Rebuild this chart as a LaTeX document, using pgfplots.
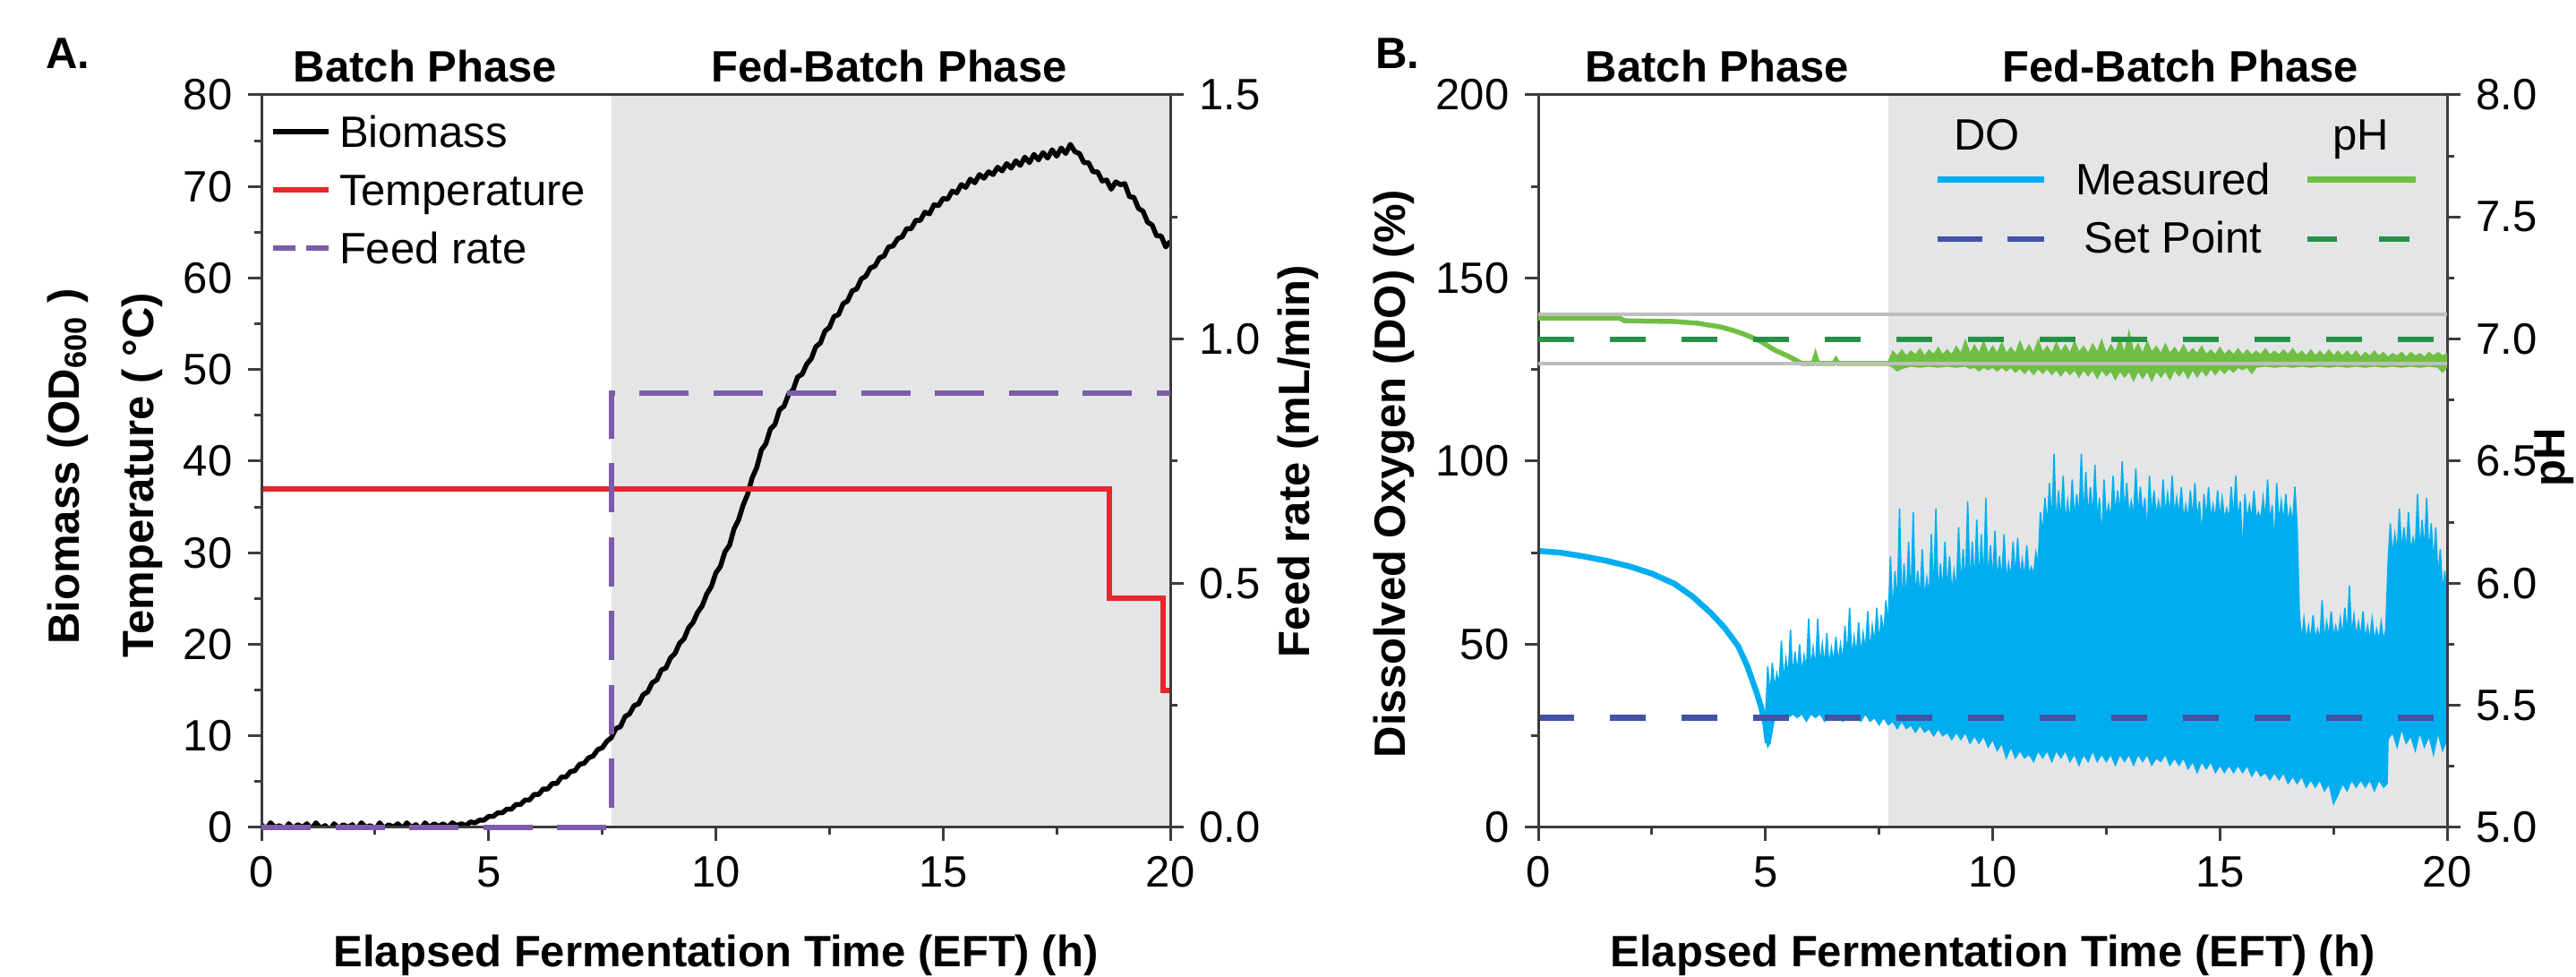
\documentclass[border=0pt]{standalone}
\usepackage{fontspec}
\setmainfont{Liberation Sans}
\usepackage{pgfplots}
\pgfplotsset{compat=1.18}

\definecolor{shade}{RGB}{228,229,231}
\definecolor{axiscol}{RGB}{60,60,60}
\definecolor{tempred}{RGB}{232,37,44}
\definecolor{feedpurple}{RGB}{124,92,170}
\definecolor{doblue}{RGB}{0,174,239}
\definecolor{dosp}{RGB}{66,82,164}
\definecolor{phgreen}{RGB}{112,191,68}
\definecolor{phsp}{RGB}{38,145,70}
\definecolor{limgray}{RGB}{190,190,190}

\newcommand\tfont{\fontsize{9.8}{11}\selectfont}
\newcommand\lfont{\fontsize{9.8}{11}\selectfont\bfseries}

\pgfplotsset{
  panel/.style={
    scale only axis, width=203pt, height=163.6pt, anchor=south west,
    xmin=0, xmax=20, xtick={0,5,10,15,20}, minor x tick num=1,
    tick align=outside, major tick length=3pt, minor tick length=1.6pt,
    axis line style={axiscol, line width=0.6pt},
    tick style={axiscol, line width=0.6pt},
    tick label style={font=\tfont},
    /pgf/number format/assume math mode=true,
  },
  onedec/.style={yticklabel style={/pgf/number format/.cd, fixed, fixed zerofill, precision=1}},
}

\begin{document}
\begin{tikzpicture}
\useasboundingbox (0,0) rectangle (575.4pt,218.2pt);

% ---------- panel A: biomass / temperature ----------
\begin{axis}[panel, at={(58.4pt,33.4pt)}, ymin=0, ymax=80, ytick={0,10,...,80},
    minor y tick num=1, xtick pos=left, ytick pos=left, axis on top]
  \addplot[fill=shade, draw=none] coordinates {(7.7,0)(20,0)(20,80)(7.7,80)} -- cycle;
  % biomass
  \addplot[black, line width=1.1pt, line join=round] coordinates {
    (0.0,0.3)(0.1,-0.2)(0.2,0.5)(0.3,0.0)(0.4,0.2)(0.5,-0.3)(0.6,0.4)(0.7,-0.1)(0.8,0.3)(0.9,0.0)
    (1.0,0.4)(1.1,-0.2)(1.2,0.5)(1.3,-0.1)(1.4,0.2)(1.5,-0.3)(1.6,0.4)(1.7,-0.1)(1.8,0.3)(1.9,0.0)
    (2.0,0.3)(2.1,-0.2)(2.2,0.5)(2.3,0.0)(2.4,0.2)(2.5,-0.3)(2.6,0.5)(2.7,-0.1)(2.8,0.3)(2.9,0.0)
    (3.0,0.4)(3.1,-0.1)(3.2,0.5)(3.3,0.0)(3.4,0.3)(3.5,-0.2)(3.6,0.5)(3.7,0.0)(3.8,0.4)(3.9,0.1)
    (4.0,0.4)(4.1,0.0)(4.2,0.5)(4.3,0.2)(4.4,0.4)(4.5,0.2)(4.6,0.6)(4.7,0.5)(4.8,0.8)(4.9,0.8)
    (5.0,1.2)(5.1,1.2)(5.2,1.6)(5.3,1.6)(5.4,2.0)(5.5,2.0)(5.6,2.5)(5.7,2.5)(5.8,3.0)(5.9,3.0)
    (6.0,3.6)(6.1,3.6)(6.2,4.2)(6.3,4.2)(6.4,4.8)(6.5,4.8)(6.6,5.5)(6.7,5.5)(6.8,6.1)(6.9,6.2)
    (7.0,6.9)(7.1,7.0)(7.2,7.6)(7.3,7.8)(7.4,8.5)(7.5,8.7)(7.6,9.4)(7.7,9.8)(7.8,10.8)(7.9,11.0)
    (8.0,12.1)(8.1,12.4)(8.2,13.3)(8.3,13.5)(8.4,14.5)(8.5,14.8)(8.6,15.8)(8.7,16.1)(8.8,17.2)(8.9,17.4)
    (9.0,18.5)(9.1,19.0)(9.2,20.1)(9.3,20.6)(9.4,21.8)(9.5,22.4)(9.6,23.5)(9.7,24.2)(9.8,25.5)(9.9,26.3)
    (10.0,27.8)(10.1,28.5)(10.2,30.1)(10.3,30.8)(10.4,32.6)(10.5,33.6)(10.6,35.2)(10.7,36.4)(10.8,38.2)(10.9,39.3)
    (11.0,41.2)(11.1,41.9)(11.2,43.5)(11.3,44.0)(11.4,45.6)(11.5,46.0)(11.6,47.3)(11.7,47.8)(11.8,49.2)(11.9,49.5)
    (12.0,50.6)(12.1,51.2)(12.2,52.5)(12.3,52.9)(12.4,54.2)(12.5,54.6)(12.6,55.8)(12.7,56.0)(12.8,57.2)(12.9,57.5)
    (13.0,58.6)(13.1,58.8)(13.2,59.9)(13.3,60.2)(13.4,61.1)(13.5,61.3)(13.6,62.2)(13.7,62.4)(13.8,63.4)(13.9,63.5)
    (14.0,64.3)(14.1,64.5)(14.2,65.4)(14.3,65.4)(14.4,66.3)(14.5,66.3)(14.6,67.2)(14.7,67.0)(14.8,68.0)(14.9,67.9)
    (15.0,68.7)(15.1,68.6)(15.2,69.5)(15.3,69.3)(15.4,70.2)(15.5,69.9)(15.6,70.8)(15.7,70.4)(15.8,71.3)(15.9,70.9)
    (16.0,71.6)(16.1,71.3)(16.2,72.1)(16.3,71.7)(16.4,72.5)(16.5,72.0)(16.6,72.8)(16.7,72.3)(16.8,73.2)(16.9,72.6)
    (17.0,73.5)(17.1,72.9)(17.2,73.7)(17.3,73.1)(17.4,74.0)(17.5,73.3)(17.6,74.2)(17.7,73.6)(17.8,74.6)(17.9,73.8)
    (18.0,73.6)(18.1,72.6)(18.2,72.6)(18.3,71.6)(18.4,71.6)(18.5,70.6)(18.6,70.7)(18.7,69.7)(18.8,70.5)(18.9,70.2)
    (19.0,70.3)(19.1,68.9)(19.2,68.8)(19.3,67.6)(19.4,67.3)(19.5,66.1)(19.6,65.8)(19.7,64.6)(19.8,64.6)(19.9,63.4)
    (20.0,64.0)
  };
  % temperature
  \addplot[tempred, line width=1.2pt] coordinates {
    (0,37)(18.65,37)(18.65,25)(19.85,25)(19.85,15)(20,15)
  };
\end{axis}

% feed rate on the right axis
\begin{axis}[panel, onedec, at={(58.4pt,33.4pt)}, ymin=0, ymax=1.5, ytick={0,0.5,1,1.5},
    minor y tick num=1, axis y line*=right, axis x line=none, clip=false]
  \addplot[feedpurple, line width=1.2pt, dash pattern=on 11pt off 5.5pt] coordinates {
    (0,0)(7.7,0)(7.7,0.89)(20,0.89)
  };
\end{axis}

% ---------- panel B: dissolved oxygen / pH ----------
\begin{axis}[panel, at={(343.6pt,33.4pt)}, ymin=0, ymax=200, ytick={0,50,...,200},
    minor y tick num=1, xtick pos=left, ytick pos=left, axis on top]
  \addplot[fill=shade, draw=none] coordinates {(7.7,0)(20,0)(20,200)(7.7,200)} -- cycle;
  % DO measured, noisy part (upper envelope then lower envelope)
  \addplot[fill=doblue, draw=doblue, line width=0.3pt] coordinates {
    (5.00,30)(5.05,44)(5.10,36)(5.15,45)(5.20,38)(5.25,42)(5.30,39)(5.35,51)(5.40,40)(5.45,46)
    (5.50,41)(5.55,54)(5.60,41)(5.65,48)(5.70,42)(5.75,50)(5.80,42)(5.85,47)(5.90,43)(5.95,57)
    (6.00,43)(6.05,49)(6.10,43)(6.15,57)(6.20,44)(6.25,50)(6.30,44)(6.35,53)(6.40,44)(6.45,49)
    (6.50,45)(6.55,52)(6.60,45)(6.65,50)(6.70,45)(6.75,55)(6.80,46)(6.85,60)(6.90,46)(6.95,52)
    (7.00,47)(7.05,56)(7.10,47)(7.15,53)(7.20,48)(7.25,59)(7.30,48)(7.35,55)(7.40,50)(7.45,60)
    (7.50,50)(7.55,58)(7.60,52)(7.65,62)(7.70,55)(7.75,74)(7.80,58)(7.85,70)(7.90,60)(7.95,87)
    (8.00,60)(8.05,72)(8.10,61)(8.15,78)(8.20,61)(8.25,86)(8.30,62)(8.35,70)(8.40,62)(8.45,76)
    (8.50,62)(8.55,68)(8.60,63)(8.65,80)(8.70,63)(8.75,87)(8.80,63)(8.85,72)(8.90,64)(8.95,78)
    (9.00,64)(9.05,74)(9.10,64)(9.15,70)(9.20,64)(9.25,82)(9.30,65)(9.35,76)(9.40,65)(9.45,89)
    (9.50,65)(9.55,78)(9.60,66)(9.65,84)(9.70,66)(9.75,80)(9.80,66)(9.85,90)(9.90,66)(9.95,77)
    (10.00,67)(10.05,81)(10.10,67)(10.15,74)(10.20,67)(10.25,80)(10.30,67)(10.35,72)(10.40,68)(10.45,78)
    (10.50,68)(10.55,79)(10.60,68)(10.65,73)(10.70,68)(10.75,77)(10.80,69)(10.85,71)(10.90,69)(10.95,75)
    (11.00,72)(11.05,86)(11.10,80)(11.15,90)(11.20,82)(11.25,94)(11.30,82)(11.35,102)(11.40,82)(11.45,92)
    (11.50,83)(11.55,96)(11.60,83)(11.65,89)(11.70,83)(11.75,95)(11.80,84)(11.85,91)(11.90,84)(11.95,102)
    (12.00,84)(12.05,97)(12.10,84)(12.15,93)(12.20,84)(12.25,99)(12.30,84)(12.35,90)(12.40,78)(12.45,95)
    (12.50,84)(12.55,88)(12.60,84)(12.65,96)(12.70,85)(12.75,92)(12.80,85)(12.85,100)(12.90,85)(12.95,94)
    (13.00,85)(13.05,89)(13.10,85)(13.15,98)(13.20,85)(13.25,93)(13.30,85)(13.35,90)(13.40,80)(13.45,96)
    (13.50,85)(13.55,92)(13.60,85)(13.65,89)(13.70,85)(13.75,95)(13.80,85)(13.85,91)(13.90,85)(13.95,96)
    (14.00,85)(14.05,90)(14.10,85)(14.15,93)(14.20,84)(14.25,88)(14.30,84)(14.35,92)(14.40,84)(14.45,94)
    (14.50,84)(14.55,89)(14.60,79)(14.65,91)(14.70,84)(14.75,93)(14.80,84)(14.85,88)(14.90,84)(14.95,92)
    (15.00,84)(15.05,90)(15.10,84)(15.15,87)(15.20,84)(15.25,93)(15.30,84)(15.35,96)(15.40,84)(15.45,89)
    (15.50,74)(15.55,91)(15.60,84)(15.65,88)(15.70,84)(15.75,92)(15.80,84)(15.85,86)(15.90,84)(15.95,90)
    (16.00,84)(16.05,95)(16.10,83)(16.15,88)(16.20,77)(16.25,94)(16.30,83)(16.35,89)(16.40,83)(16.45,91)
    (16.50,83)(16.55,87)(16.60,83)(16.65,93)(16.70,82)(16.75,58)(16.80,51)(16.85,57)(16.90,51)(16.95,55)
    (17.00,51)(17.05,58)(17.10,51)(17.15,54)(17.20,51)(17.25,62)(17.30,51)(17.35,56)(17.40,52)(17.45,59)
    (17.50,52)(17.55,55)(17.60,52)(17.65,57)(17.70,52)(17.75,60)(17.80,52)(17.85,66)(17.90,52)(17.95,58)
    (18.00,52)(18.05,56)(18.10,52)(18.15,59)(18.20,51)(18.25,55)(18.30,51)(18.35,57)(18.40,51)(18.45,54)
    (18.50,51)(18.55,56)(18.60,51)(18.65,54)(18.70,72)(18.75,83)(18.80,74)(18.85,80)(18.90,75)(18.95,87)
    (19.00,75)(19.05,82)(19.10,75)(19.15,86)(19.20,75)(19.25,79)(19.30,76)(19.35,91)(19.40,75)(19.45,84)
    (19.50,75)(19.55,90)(19.60,74)(19.65,83)(19.70,72)(19.75,82)(19.80,68)(19.85,76)(19.90,64)(19.95,70)
    (20.00,61)
    (20.0,24)(19.9,21)(19.8,26)(19.7,20)(19.6,25)(19.5,22)(19.4,26)(19.3,21)(19.2,25)(19.1,23)
    (19.0,27)(18.9,22)(18.8,26)(18.7,24)(18.68,12)(18.6,11)(18.5,13)(18.4,10)(18.3,13)(18.2,11)
    (18.1,13)(18.0,11)(17.9,13)(17.8,10)(17.7,12)(17.6,9)(17.5,6.5)(17.4,12)(17.3,10)(17.2,13)
    (17.1,11)(17.0,13)(16.9,11)(16.8,14)(16.7,12)(16.6,14)(16.5,12)(16.4,15)(16.3,13)(16.2,15)
    (16.1,13)(16.0,15)(15.9,14)(15.8,16)(15.7,14)(15.6,17)(15.5,15)(15.4,17)(15.3,15)(15.2,17)
    (15.1,15)(15.0,17)(14.9,15)(14.8,18)(14.7,16)(14.6,18)(14.5,15)(14.4,18)(14.3,16)(14.2,19)
    (14.1,17)(14.0,19)(13.9,17)(13.8,20)(13.7,18)(13.6,19)(13.5,17)(13.4,20)(13.3,18)(13.2,20)
    (13.1,17)(13.0,20)(12.9,18)(12.8,20)(12.7,17)(12.6,20)(12.5,18)(12.4,20)(12.3,18)(12.2,21)
    (12.1,18)(12.0,20)(11.9,17)(11.8,20)(11.7,18)(11.6,21)(11.5,19)(11.4,21)(11.3,18)(11.2,21)
    (11.1,19)(11.0,21)(10.9,18)(10.8,20)(10.7,19)(10.6,21)(10.5,19)(10.4,22)(10.3,19)(10.2,23)
    (10.1,21)(10.0,24)(9.9,22)(9.8,25)(9.7,23)(9.6,25)(9.5,23)(9.4,26)(9.3,24)(9.2,26)
    (9.1,24)(9.0,26)(8.9,25)(8.8,27)(8.7,25)(8.6,27)(8.5,26)(8.4,28)(8.3,26)(8.2,28)
    (8.1,27)(8.0,29)(7.9,27)(7.8,29)(7.7,28)(7.6,30)(7.5,28)(7.4,30)(7.3,29)(7.2,31)
    (7.1,29)(7.0,31)(6.9,30)(6.8,31)(6.7,29)(6.6,31)(6.5,30)(6.4,31)(6.3,29)(6.2,31)
    (6.1,30)(6.0,31)(5.9,29)(5.8,31)(5.7,30)(5.6,31)(5.5,30)(5.4,31)(5.3,30)(5.2,30)
    (5.1,23)(5.05,22)(5.0,26)
  } -- cycle;
  % DO measured, batch part
  \addplot[doblue, line width=1.3pt] coordinates {
    (0,75.5)(0.5,75)(1,74)(1.5,72.8)(2,71.3)(2.5,69.3)(3,66.5)(3.4,63)(3.8,58.5)
    (4.1,54.5)(4.4,49.5)(4.6,44)(4.7,40.5)(4.8,37)(4.9,33)(5.0,28)(5.05,23)
  };
  % DO set point
  \addplot[dosp, line width=1.3pt, dash pattern=on 8pt off 8pt] coordinates {(0,30)(20,30)};
\end{axis}

\begin{axis}[panel, onedec, at={(343.6pt,33.4pt)}, ymin=5, ymax=8, ytick={5,5.5,...,8},
    minor y tick num=1, axis y line*=right, axis x line=none]
  % pH measured, fed-batch band
  \addplot[fill=phgreen, draw=phgreen, line width=0.3pt] coordinates {
    (7.7,6.905)(7.8,6.95)(7.9,6.93)(8.0,6.955)(8.1,6.93)(8.2,6.95)(8.3,6.935)(8.4,6.96)(8.5,6.93)(8.6,6.955)
    (8.7,6.935)(8.8,6.965)(8.9,6.935)(9.0,6.955)(9.1,6.935)(9.2,6.97)(9.3,6.94)(9.4,6.995)(9.5,6.94)(9.6,6.975)
    (9.7,6.94)(9.8,6.99)(9.9,6.94)(10.0,6.97)(10.1,6.94)(10.2,6.985)(10.3,6.94)(10.4,6.965)(10.5,6.94)(10.6,6.99)
    (10.7,6.945)(10.8,6.975)(10.9,6.94)(11.0,6.995)(11.1,6.945)(11.2,6.97)(11.3,6.94)(11.4,6.985)(11.5,6.945)(11.6,6.975)
    (11.7,6.94)(11.8,6.99)(11.9,6.945)(12.0,6.97)(12.1,6.94)(12.2,6.98)(12.3,6.945)(12.4,6.995)(12.5,6.94)(12.6,6.975)
    (12.7,6.945)(12.8,7.0)(12.9,6.94)(13.0,7.03)(13.1,6.945)(13.2,6.98)(13.3,6.94)(13.4,6.99)(13.5,6.945)(13.6,6.97)
    (13.7,6.94)(13.8,6.98)(13.9,6.94)(14.0,6.965)(14.1,6.94)(14.2,6.975)(14.3,6.94)(14.4,6.96)(14.5,6.94)(14.6,6.97)
    (14.7,6.935)(14.8,6.955)(14.9,6.935)(15.0,6.965)(15.1,6.935)(15.2,6.955)(15.3,6.935)(15.4,6.96)(15.5,6.935)(15.6,6.955)
    (15.7,6.935)(15.8,6.95)(15.9,6.935)(16.0,6.96)(16.1,6.935)(16.2,6.95)(16.3,6.935)(16.4,6.955)(16.5,6.935)(16.6,6.96)
    (16.7,6.935)(16.8,6.95)(16.9,6.93)(17.0,6.955)(17.1,6.93)(17.2,6.95)(17.3,6.93)(17.4,6.955)(17.5,6.93)(17.6,6.95)
    (17.7,6.93)(17.8,6.95)(17.9,6.93)(18.0,6.95)(18.1,6.925)(18.2,6.945)(18.3,6.93)(18.4,6.95)(18.5,6.93)(18.6,6.945)
    (18.7,6.925)(18.8,6.94)(18.9,6.93)(19.0,6.945)(19.1,6.925)(19.2,6.945)(19.3,6.93)(19.4,6.94)(19.5,6.925)(19.6,6.945)
    (19.7,6.93)(19.8,6.945)(19.9,6.93)(20.0,6.94)
    (20.0,6.885)(19.9,6.865)(19.8,6.885)(19.6,6.89)(19.4,6.885)(19.2,6.89)(19.0,6.885)(18.8,6.89)(18.6,6.885)(18.4,6.89)
    (18.2,6.885)(18.0,6.89)(17.8,6.885)(17.6,6.89)(17.4,6.885)(17.2,6.89)(17.0,6.885)(16.8,6.89)(16.6,6.885)(16.4,6.89)
    (16.2,6.885)(16.0,6.89)(15.8,6.885)(15.7,6.86)(15.6,6.885)(15.5,6.875)(15.4,6.885)(15.3,6.865)(15.2,6.88)(15.1,6.86)
    (15.0,6.88)(14.9,6.855)(14.8,6.88)(14.7,6.85)(14.6,6.875)(14.5,6.845)(14.4,6.875)(14.3,6.84)(14.2,6.875)(14.1,6.85)
    (14.0,6.875)(13.9,6.835)(13.8,6.87)(13.7,6.845)(13.6,6.87)(13.5,6.83)(13.4,6.87)(13.3,6.84)(13.2,6.87)(13.1,6.83)
    (13.0,6.87)(12.9,6.845)(12.8,6.87)(12.7,6.835)(12.6,6.87)(12.5,6.85)(12.4,6.875)(12.3,6.84)(12.2,6.875)(12.1,6.85)
    (12.0,6.875)(11.9,6.845)(11.8,6.875)(11.7,6.855)(11.6,6.875)(11.5,6.85)(11.4,6.875)(11.3,6.855)(11.2,6.88)(11.1,6.86)
    (11.0,6.88)(10.9,6.855)(10.8,6.88)(10.7,6.86)(10.6,6.88)(10.5,6.865)(10.4,6.885)(10.3,6.87)(10.2,6.885)(10.1,6.87)
    (10.0,6.885)(9.9,6.875)(9.8,6.885)(9.7,6.87)(9.6,6.885)(9.5,6.88)(9.4,6.89)(9.2,6.885)(9.0,6.89)(8.8,6.885)
    (8.6,6.89)(8.4,6.885)(8.2,6.89)(8.0,6.88)(7.9,6.87)(7.8,6.885)(7.7,6.895)
  } -- cycle;
  % pH measured, batch part
  \addplot[phgreen, line width=1.1pt] coordinates {
    (0,7.085)(1.8,7.085)(1.9,7.075)(3.0,7.072)(3.5,7.065)(4.0,7.05)(4.3,7.035)(4.6,7.015)
    (4.9,6.99)(5.2,6.955)(5.5,6.93)(5.8,6.9)(6.05,6.9)(6.1,6.93)(6.15,6.9)(6.5,6.9)(6.55,6.915)
    (6.6,6.9)(7.7,6.9)
  };
  % pH limits and set point
  \addplot[limgray, line width=0.8pt] coordinates {(0,7.1)(20,7.1)};
  \addplot[limgray, line width=0.8pt] coordinates {(0,6.9)(20,6.9)};
  \addplot[phsp, line width=1.2pt, dash pattern=on 8pt off 8pt] coordinates {(0,7)(20,7)};
\end{axis}

% ---------- text ----------
\node[anchor=base west, inner sep=0pt, font=\lfont] at (10pt,202.8pt) {A.};
\node[anchor=base west, inner sep=0pt, font=\lfont] at (307pt,202.8pt) {B.};
\node[anchor=base, inner sep=0pt, font=\lfont] at (95pt,199.8pt) {Batch Phase};
\node[anchor=base, inner sep=0pt, font=\lfont] at (198.6pt,199.8pt) {Fed-Batch Phase};
\node[anchor=base, inner sep=0pt, font=\lfont] at (383.6pt,199.8pt) {Batch Phase};
\node[anchor=base, inner sep=0pt, font=\lfont] at (487pt,199.8pt) {Fed-Batch Phase};
\node[anchor=base, inner sep=0pt, font=\lfont] at (159.9pt,2.2pt) {Elapsed Fermentation Time (EFT) (h)};
\node[anchor=base, inner sep=0pt, font=\lfont] at (445.1pt,2.2pt) {Elapsed Fermentation Time (EFT) (h)};
\node[rotate=90, inner sep=0pt, font=\lfont] at (15.2pt,114pt) {Biomass (OD\textsubscript{600} )};
\node[rotate=90, inner sep=0pt, font=\lfont] at (31.8pt,112pt) {Temperature ( °C)};
\node[rotate=90, inner sep=0pt, font=\lfont] at (290pt,115.2pt) {Feed rate (mL/min)};
\node[rotate=90, inner sep=0pt, font=\lfont] at (311.4pt,112.4pt) {Dissolved Oxygen (DO) (\%)};
\node[rotate=90, inner sep=0pt, font=\lfont] at (570.6pt,116pt) {pH};

% legend A
\draw[black, line width=1.1pt] (61pt,188.8pt) -- (73.4pt,188.8pt);
\node[anchor=base west, inner sep=0pt, font=\tfont] at (75.6pt,185.3pt) {Biomass};
\draw[tempred, line width=1.1pt] (61pt,175.8pt) -- (73.4pt,175.8pt);
\node[anchor=base west, inner sep=0pt, font=\tfont] at (75.6pt,172.3pt) {Temperature};
\draw[feedpurple, line width=1.1pt] (61pt,162.8pt) -- (66pt,162.8pt) (68.4pt,162.8pt) -- (73.4pt,162.8pt);
\node[anchor=base west, inner sep=0pt, font=\tfont] at (75.6pt,159.3pt) {Feed rate};

% legend B
\node[anchor=base, inner sep=0pt, font=\tfont] at (443.8pt,184.6pt) {DO};
\node[anchor=base, inner sep=0pt, font=\tfont] at (527.4pt,184.6pt) {pH};
\draw[doblue, line width=1.4pt] (432.8pt,178pt) -- (456.6pt,178pt);
\draw[phgreen, line width=1.4pt] (515.4pt,178pt) -- (539.6pt,178pt);
\node[anchor=base, inner sep=0pt, font=\tfont] at (485.4pt,174.6pt) {Measured};
\draw[dosp, line width=1.2pt] (432.8pt,164.8pt) -- (442.8pt,164.8pt) (448.4pt,164.8pt) -- (456.6pt,164.8pt);
\draw[phsp, line width=1.2pt] (515.4pt,164.8pt) -- (522pt,164.8pt) (531.4pt,164.8pt) -- (538.2pt,164.8pt);
\node[anchor=base, inner sep=0pt, font=\tfont] at (485.4pt,161.6pt) {Set Point};
\end{tikzpicture}
\end{document}
